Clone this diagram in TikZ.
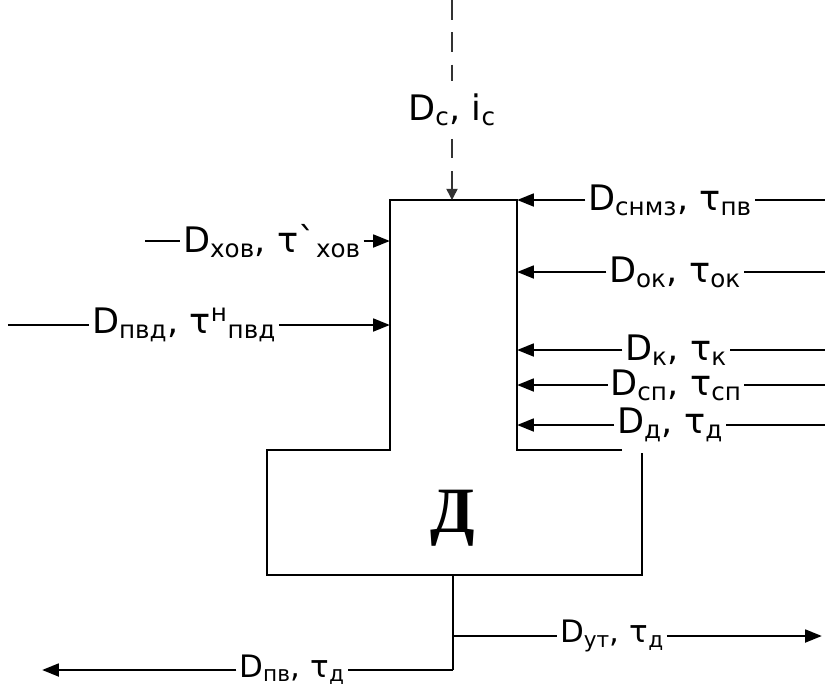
\documentclass[tikz,border=0pt]{standalone}
\usepackage{fontspec}
\setmainfont{DejaVu Sans}
\newfontfamily\blockfont{Liberation Serif}
\usetikzlibrary{arrows.meta}

\begin{document}
\begin{tikzpicture}[>={Triangle[length=12pt,width=9pt]}, line width=2pt,
  every node/.style={font=\fontsize{25}{30}\selectfont, inner sep=1pt, fill=white},
  outlbl/.style={font=\fontsize{22}{26}\selectfont}]
  \useasboundingbox (0,0) rectangle (20.625,-17.2);

  % Deaerator body
  \draw (15.55,-11.25) -- (12.925,-11.25) -- (12.925,-5) -- (9.75,-5) -- (9.75,-11.25)
        -- (6.675,-11.25) -- (6.675,-14.375) -- (16.05,-14.375) -- (16.05,-11.325);
  \node[font=\blockfont\bfseries\fontsize{46}{50}\selectfont] (dea) at (11.325,-12.95) {Д};

  % Steam from above
  \coordinate (c-in) at (11.3,0);
  \coordinate (c-out) at (11.3,-5);
  \node[inner sep=8pt] (c) at (11.3,-2.75) {D\textsubscript{c}, i\textsubscript{c}};
  \draw[dash pattern=on 14pt off 9pt, line width=1.1pt, black!80] (c-in) -- (c);
  \draw[dash pattern=on 14pt off 9pt, line width=1.1pt, black!80, -{Triangle[length=8pt,width=8pt]}] (c) -- (c-out);

  % Right inputs
  \coordinate (snmz-in) at (20.625,-5);
  \coordinate (snmz-out) at (12.925,-5);
  \node (snmz) at (16.75,-5) {D\textsubscript{снмз}, τ\textsubscript{пв}};
  \coordinate (ok-in) at (20.625,-6.8);
  \coordinate (ok-out) at (12.925,-6.8);
  \node (ok) at (16.875,-6.8) {D\textsubscript{ок}, τ\textsubscript{ок}};
  \coordinate (k-in) at (20.625,-8.75);
  \coordinate (k-out) at (12.925,-8.75);
  \node (k) at (16.9,-8.75) {D\textsubscript{к}, τ\textsubscript{к}};
  \coordinate (sp-in) at (20.625,-9.625);
  \coordinate (sp-out) at (12.925,-9.625);
  \node (sp) at (16.9,-9.625) {D\textsubscript{сп}, τ\textsubscript{сп}};
  \coordinate (d-in) at (20.625,-10.625);
  \coordinate (d-out) at (12.925,-10.625);
  \node (d) at (16.75,-10.625) {D\textsubscript{д}, τ\textsubscript{д}};

  \draw (snmz-in) -- (snmz);
  \draw[->] (snmz) -- (snmz-out);
  \draw (ok-in) -- (ok);
  \draw[->] (ok) -- (ok-out);
  \draw (k-in) -- (k);
  \draw[->] (k) -- (k-out);
  \draw (sp-in) -- (sp);
  \draw[->] (sp) -- (sp-out);
  \draw (d-in) -- (d);
  \draw[->] (d) -- (d-out);

  % Left inputs
  \coordinate (xov-in) at (3.625,-6.025);
  \coordinate (xov-out) at (9.75,-6.025);
  \node (xov) at (6.8,-6.025) {D\textsubscript{хов}, τ\textasciigrave\textsubscript{хов}};
  \coordinate (pvd-in) at (0.2,-8.125);
  \coordinate (pvd-out) at (9.75,-8.125);
  \node (pvd) at (4.6,-8.125) {D\textsubscript{пвд}, τ\textsuperscript{н}\textsubscript{пвд}};

  \draw (xov-in) -- (xov);
  \draw[->] (xov) -- (xov-out);
  \draw (pvd-in) -- (pvd);
  \draw[->] (pvd) -- (pvd-out);

  % Outputs
  \coordinate (out) at (11.325,-14.375);
  \coordinate (split) at (11.325,-15.9);
  \coordinate (corner) at (11.325,-16.75);
  \coordinate (ut-end) at (20.55,-15.9);
  \coordinate (pv-end) at (1.05,-16.75);
  \node[outlbl] (ut) at (15.3,-15.9) {D\textsubscript{ут}, τ\textsubscript{д}};
  \node[outlbl] (pv) at (7.3,-16.75) {D\textsubscript{пв}, τ\textsubscript{д}};

  \draw (out) -- (corner);
  \draw (split) -- (ut);
  \draw[->] (ut) -- (ut-end);
  \draw (corner) -- (pv);
  \draw[->] (pv) -- (pv-end);
\end{tikzpicture}
\end{document}
